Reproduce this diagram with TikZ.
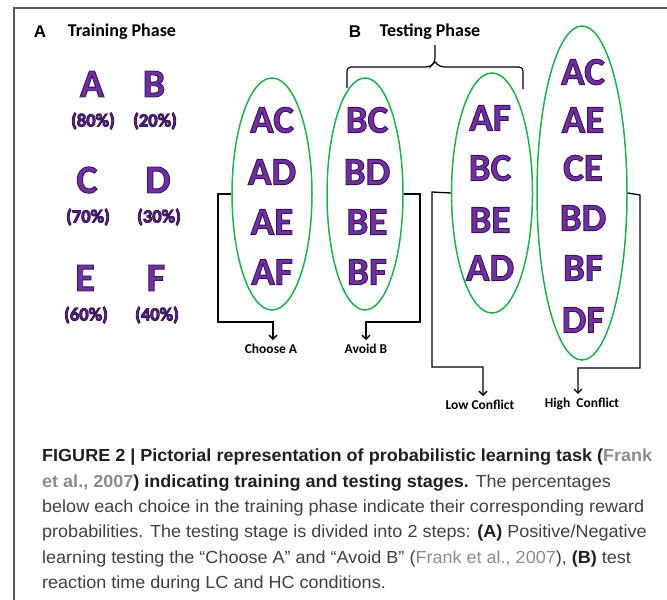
\documentclass[tikz,border=0pt]{standalone}
\usepackage{fontspec}
\setmainfont{Carlito}
\newfontfamily\capfont{Liberation Sans}[FakeStretch=1.03]
\newfontfamily\headfont{Liberation Sans}
\usetikzlibrary{arrows.meta,positioning,shapes.geometric}
\definecolor{ChoicePurple}{HTML}{7030A0}
\definecolor{ProbPurple}{HTML}{5A2A88}
\definecolor{LoopGreen}{HTML}{20B04B}
\definecolor{FrameGray}{HTML}{5A5A5A}
\definecolor{CapText}{HTML}{404040}
\definecolor{CiteGray}{HTML}{8C8C8C}
\newcommand\inked[1]{\special{pdf:literal direct 2 Tr 0.9 w 0.22 0.08 0.35 RG}#1\special{pdf:literal direct 0 Tr}}
\tikzset{
  choice/.style={font=\fontsize{40}{40}\selectfont\bfseries,text=ChoicePurple,inner sep=0pt},
  prob/.style={font=\fontsize{18.5}{18.5}\selectfont\bfseries,text=ProbPurple,inner sep=0pt},
  pair/.style={font=\fontsize{39}{39}\selectfont\bfseries,text=ChoicePurple,inner sep=0pt},
  loop/.style={draw=LoopGreen,line width=1.5pt,ellipse,inner sep=0pt},
  flow/.style={->,line width=1.3pt,shorten >=3pt},
  outcome/.style={font=\fontsize{13.5}{13.5}\selectfont\bfseries,inner sep=1pt},
  capline/.style={anchor=base west,inner sep=0pt,text=CapText,font=\capfont\fontsize{17.5}{17.5}\selectfont}
}
\begin{document}
\begin{tikzpicture}[x=1pt,y=-1pt,>={Straight Barb[length=4pt,width=8pt]}]
  \useasboundingbox (0,0) rectangle (667,600);
  \draw[FrameGray,line width=1.1pt] (14,600) -- (14,8) -- (667,8);

  % training phase
  \node[font=\headfont\fontsize{17}{17}\selectfont\bfseries] (pa) at (40,32) {A};
  \node[font=\fontsize{18}{18}\selectfont\bfseries] (train) at (122,32) {Training Phase};
  \foreach \l/\p/\x/\y in {A/80/92/84,B/20/154/84,C/70/87/180,D/30/158/180,E/60/85/278,F/40/156/278} {
    \node[choice] (s\l) at (\x,\y) {\inked{\l}};
    \node[prob] (p\l) at (\x+1,\y+37) {\inked{(\p\%)}};
  }

  % testing phase
  \node[font=\headfont\fontsize{17}{17}\selectfont\bfseries] (pb) at (355,32) {B};
  \node[font=\fontsize{18}{18}\selectfont\bfseries] (test) at (430,32) {Testing Phase};
  \draw[line width=1.2pt,rounded corners=4pt] (347,88) -- (347,67) -- (430,67) -- (435,62) -- (435,45);
  \draw[line width=1.2pt,rounded corners=4pt] (435,62) -- (440,67) -- (523,67) -- (523,89);

  \node[loop,minimum width=80,minimum height=232] (la) at (272,194) {};
  \node[loop,minimum width=76,minimum height=232] (lb) at (365,194) {};
  \node[loop,minimum width=81,minimum height=240] (lc) at (492,193) {};
  \node[loop,minimum width=90,minimum height=334] (hc) at (582,193) {};

  \foreach \t/\y [count=\i] in {AC/120,AD/172,AE/222,AF/272}
    \node[pair] (a\i) at (272,\y) {\inked{\t}};
  \foreach \t/\y [count=\i] in {BC/120,BD/172,BE/222,BF/272}
    \node[pair] (b\i) at (367,\y) {\inked{\t}};
  \foreach \t/\y [count=\i] in {AF/118,BC/168,BE/220,AD/268}
    \node[pair] (c\i) at (490,\y) {\inked{\t}};
  \foreach \t/\y [count=\i] in {AC/72,AE/120,CE/168,BD/218,BF/268,DF/320}
    \node[pair] (d\i) at (583,\y) {\inked{\t}};

  \node[outcome] (chooseA) at (271,349) {Choose A};
  \node[outcome] (avoidB) at (366,349) {Avoid B};
  \node[outcome] (lowC) at (480,405) {Low Conflict};
  \node[outcome] (highC) at (582,404) {High\ \ Conflict};

  \coordinate (ka) at (273,322);
  \coordinate (kb) at (366,322);
  \coordinate (kc) at (483,367);
  \coordinate (kd) at (578,368);
  \draw[flow] (la.west) -- (218,194) |- (ka) -- (ka |- chooseA.north);
  \draw[flow] (lb.east) -- (420,194) |- (kb) -- (kb |- avoidB.north);
  \draw[flow] (lc.west) -- (432,192) |- (kc) -- (kc |- lowC.north);
  \draw[flow] (hc.east) -- (640,195) |- (kd) -- (kd |- highC.north);

  % caption
  \node[capline] (cap1) at (42,461) {\textbf{\color{black!88}FIGURE 2 | Pictorial representation of probabilistic learning task (\textcolor{CiteGray}{Frank}}};
  \node[capline] (cap2) at (42,487) {\textbf{\textcolor{CiteGray}{et al., 2007}\color{black!88}) indicating training and testing stages.} The percentages};
  \node[capline] (cap3) at (42,512) {below each choice in the training phase indicate their corresponding reward};
  \node[capline] (cap4) at (42,537) {probabilities. The testing stage is divided into 2 steps: \textbf{\color{black!88}(A)} Positive/Negative};
  \node[capline] (cap5) at (42,563) {learning testing the “Choose A” and “Avoid B” (\textcolor{CiteGray}{Frank et al., 2007}), \textbf{\color{black!88}(B)} test};
  \node[capline] (cap6) at (42,588) {reaction time during LC and HC conditions.};
\end{tikzpicture}
\end{document}
